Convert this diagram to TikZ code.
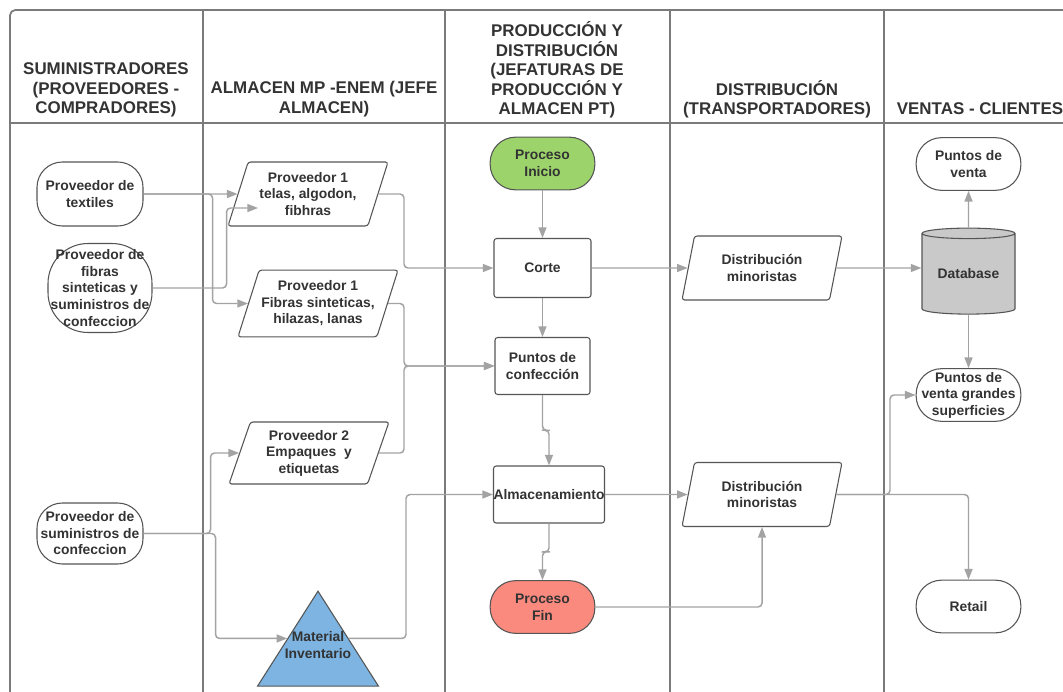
\documentclass[tikz,border=0pt]{standalone}
\usepackage{fontspec}
\setmainfont{Liberation Sans}
\usetikzlibrary{arrows,shapes,positioning,fit,arrows.meta,backgrounds,calc}
\definecolor{lanegray}{HTML}{7A7A7A}
\definecolor{linegray}{HTML}{A3A3A3}
\definecolor{bordergray}{HTML}{555555}
\definecolor{txtgray}{HTML}{333333}
\definecolor{inigreen}{HTML}{9CD46B}
\definecolor{finred}{HTML}{FA8A7E}
\definecolor{invblue}{HTML}{7DB4E1}
\definecolor{dbgray}{HTML}{C9C9C9}

\begin{document}
\begin{tikzpicture}[x=0.75pt,y=-0.75pt,
    every node/.style={text=txtgray,font=\bfseries\fontsize{10.4}{12.4}\selectfont,align=center},
    lane/.style={draw=lanegray,line width=1.3pt},
    headtxt/.style={font=\bfseries\fontsize{12.7}{14.6}\selectfont},
    supbox/.style={draw=bordergray,line width=0.8pt,fill=white,rectangle,rounded corners=19pt,minimum width=79.5pt,minimum height=48pt,inner sep=0pt},
    term/.style={draw=bordergray,line width=0.8pt,fill=white,rectangle,rounded corners=19pt,minimum width=78.5pt,minimum height=39.5pt,inner sep=0pt},
    procbox/.style={draw=bordergray,line width=0.8pt,fill=white,rectangle,rounded corners=2pt,minimum width=72.75pt,minimum height=44.25pt,inner sep=0pt},
    inout/.style={draw=bordergray,line width=0.8pt,fill=white,trapezium,trapezium left angle=65,trapezium right angle=115,trapezium stretches body,rounded corners=2pt,minimum width=120pt,minimum height=48pt,inner sep=0pt},
    invtri/.style={draw=bordergray,line width=0.8pt,fill=invblue,isosceles triangle,isosceles triangle apex angle=65,isosceles triangle stretches,shape border rotate=90,minimum width=90.75pt,minimum height=71.25pt,inner sep=0pt},
    dbcyl/.style={draw=bordergray,line width=0.8pt,fill=dbgray,cylinder,shape border rotate=90,aspect=0.17,minimum width=69.75pt,minimum height=64.5pt,inner sep=0pt},
    conn/.style={draw=linegray,line width=1.1pt,rounded corners=3pt,-{Triangle[length=8pt,width=6pt]}}]

        \useasboundingbox (0,0) rectangle (1063,692);
        \fill[white] (0,0) rectangle (1063,692);
        \clip (0,0) rectangle (1063,692);

        % Lanes
        \draw[lane,rounded corners=4pt] (10,700) -- (10,10) -- (1075,10);
        \draw[lane] (10,123) -- (1075,123);
        \foreach \lx in {203,445,670,884}
            \draw[lane] (\lx,10) -- (\lx,700);

        % Headers
        \node[headtxt] (hsum) at (106,90) {SUMINISTRADORES\\(PROVEEDORES -\\COMPRADORES)};
        \node[headtxt] (halm) at (324,99) {ALMACEN MP -ENEM (JEFE\\ALMACEN)};
        \node[headtxt] (hprod) at (557,70) {PRODUCCIÓN Y\\DISTRIBUCIÓN\\(JEFATURAS DE\\PRODUCCIÓN Y\\ALMACEN PT)};
        \node[headtxt] (hdist) at (777,99) {DISTRIBUCIÓN\\(TRANSPORTADORES)};
        \node[headtxt] (hven) at (980,109) {VENTAS - CLIENTES};

        % Suministradores
        \node[supbox] (textil) at (90,194) {Proveedor de\\textiles};
        \node[supbox,minimum width=78pt,minimum height=66.75pt,rounded corners=30pt] (fibras) at (100,288) {Proveedor de\\fibras\\sinteticas y\\suministros de\\confeccion};
        \node[supbox,minimum height=45.75pt] (sumin) at (90,533.5) {Proveedor de\\suministros de\\confeccion};

        % Almacen MP
        \node[inout] (p1a) at (308,194) {Proveedor 1\\telas, algodon,\\fibhras};
        \node[inout,minimum height=50pt] (p1b) at (318,303.5) {Proveedor 1\\Fibras sinteticas,\\hilazas, lanas};
        \node[inout,minimum height=46.5pt] (p2) at (309,453) {Proveedor 2\\Empaques\ \ y\\etiquetas};
        \node[invtri,label={[yshift=6pt]center:Material\\Inventario}] (inv) at (318,653) {};

        % Produccion
        \node[term,fill=inigreen] (inicio) at (542.5,163.5) {Proceso\\Inicio};
        \node[procbox] (corte) at (542.5,268) {Corte};
        \node[procbox,minimum width=71.25pt,minimum height=42.75pt] (conf) at (542.5,366) {Puntos de\\confección};
        \node[procbox,minimum width=82.5pt,minimum height=42.75pt] (alm) at (549,494.5) {Almacenamiento};
        \node[term,fill=finred] (fin) at (542.5,607) {Proceso\\Fin};

        % Distribucion
        \node[inout] (dista) at (762,268) {Distribución\\minoristas};
        \node[inout] (distb) at (762,494.5) {Distribución\\minoristas};

        % Ventas
        \node[term] (pventa) at (968.5,164) {Puntos de\\venta};
        \node[dbcyl] (db) at (968.5,274) {Database};
        \node[term] (grandes) at (968.5,395) {Puntos de\\venta grandes\\superficies};
        \node[term] (retail) at (968.5,606.5) {Retail};

        % Arrows
        \coordinate (busA) at (404,0);
        \coordinate (busB) at (406,0);
        \coordinate (busC) at (890,0);
        \coordinate (p1aIn) at (258,208);

        \draw[conn] (textil) -- (p1a);
        \draw[conn] (textil.east) -- ++(69,0) |- (p1b);
        \draw[conn] (fibras.east) -- ++(74,0) |- (p1aIn);
        \draw[conn] (sumin.east) -- ++(67,0) |- (p2);
        \draw[conn] (sumin.east) -- ++(72,0) |- (inv.left side);

        \draw[conn] (p1a.east) -| (busA |- corte) -- (corte);
        \draw[conn] (p1b.east) -| (busA |- conf) -- (conf);
        \draw[conn] (p2.east) -| (busA |- conf) -- (conf);
        \draw[conn] (inv.right side) -| (busB |- alm) -- (alm);

        \draw[conn] (inicio) -- (corte);
        \draw[conn] (corte) -- (conf);
        \draw[conn] (conf.south) |- ($(conf.south)!0.5!(alm.north)$) -| (alm.north);
        \draw[conn] (alm.south) |- ($(alm.south)!0.5!(fin.north)$) -| (fin.north);
        \draw[conn] (corte) -- (dista);
        \draw[conn] (alm) -- (distb);
        \draw[conn] (fin) -| (distb);

        \draw[conn] (dista) -- (dista -| db.west);
        \draw[conn] (db) -- (pventa);
        \draw[conn] (db) -- (grandes);
        \draw[conn] (distb.east) -| (retail);
        \draw[conn] (distb.east) -| (busC |- grandes) -- (grandes);
    \end{tikzpicture}
\end{document}
